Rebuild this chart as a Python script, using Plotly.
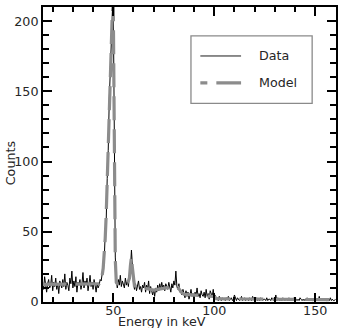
import numpy as np
import plotly.graph_objects as go

# Data: counts in 0.5 keV bins starting at 15 keV
data_counts = [
    14, 9, 18, 11, 7, 13, 16, 10, 12, 19, 8, 14, 11, 17, 9, 13, 6, 15, 12, 10,
    16, 11, 20, 9, 14, 12, 8, 17, 13, 22, 10, 15, 11, 18, 7, 14, 12, 16, 9, 13,
    21, 10, 15, 12, 17, 8, 13, 19, 11, 14, 9, 16, 12, 7, 13, 10, 12, 16, 15, 21,
    26, 30, 48, 58, 88, 108, 143, 165, 196, 204, 215, 128, 32, 15, 10, 16, 12, 19, 11, 15,
    13, 10, 17, 12, 15, 11, 19, 24, 37, 21, 14, 9, 13, 8, 12, 15, 9, 11, 7, 12,
    10, 14, 7, 12, 9, 15, 6, 11, 8, 5, 9, 4, 10, 7, 12, 8, 13, 9, 14, 10,
    12, 8, 13, 10, 9, 14, 11, 7, 13, 10, 15, 12, 22, 11, 9, 13, 7, 8, 5, 9,
    6, 3, 8, 4, 7, 2, 5, 9, 4, 6, 3, 7, 5, 10, 4, 6, 3, 8, 5, 4,
    7, 3, 9, 4, 6, 2, 8, 5, 4, 9, 3, 5, 2, 3, 1, 4, 2, 1, 3, 2,
    2, 1, 3, 2, 4, 1, 2, 3, 1, 2, 5, 2, 1, 3, 2, 1, 2, 4, 1, 2,
    3, 1, 2, 2, 1, 3, 2, 1, 4, 2, 1, 2, 3, 1, 2, 1, 3, 2, 1, 2,
    2, 1, 3, 1, 2, 2, 1, 3, 2, 1, 2, 5, 1, 3, 2, 1, 2, 1, 3, 2,
    1, 2, 2, 1, 3, 1, 2, 1, 2, 3, 1, 2, 1, 2, 1, 3, 2, 1, 2, 1,
    2, 1, 3, 1, 2, 1, 2, 1, 1, 2, 3, 1, 2, 1, 4, 1, 2, 1, 2, 1,
    2, 1, 1, 2, 1, 3, 1, 2, 1, 1, 2,
]
data_start_kev = 15.0
data_bin_kev = 0.5
data_energy = data_start_kev + data_bin_kev * np.arange(len(data_counts))

model_energy = [15, 20, 25, 30, 35, 40, 43, 43.5, 44, 44.5, 45, 45.5, 46, 46.5, 47, 47.5, 48,
                48.5, 49, 49.5, 50, 50.5, 51, 51.5, 52, 55, 57, 57.5, 58, 58.5, 59, 59.5, 60, 60.5,
                62, 65, 68, 70, 72, 75, 78, 82, 83, 84, 85, 88, 92, 96, 100, 100.5, 101, 105, 120, 140, 160]
model_counts = [12.5, 12.5, 13, 13, 12.5, 12.5, 13, 14, 16, 19, 24, 32, 45, 62, 85, 112, 140,
                168, 192, 205, 212, 130, 30, 14, 13, 13.5, 14, 15, 17, 26, 32, 24, 14, 11.5,
                11, 10, 9, 8.5, 9, 10, 10.5, 10.5, 8.5, 6.5, 5.5, 5, 4.5, 4.2, 4, 3, 2.3, 2.2, 2, 1.8, 1.6]

x_major = [50, 100, 150]
y_major = [0, 50, 100, 150, 200]
series_names = ["Data", "Model"]

FONT = "DejaVu Sans"
TXT = "#262626"
FS = 12.7
DATA_LINE = dict(color="black", width=1)
MODEL_LINE = dict(color="rgb(140,140,140)", width=3.2, dash="24px,9px")

fig = go.Figure()
fig.add_trace(go.Scatter(x=data_energy, y=data_counts, mode="lines", name=series_names[0],
                         showlegend=False, line=DATA_LINE))
fig.add_trace(go.Scatter(x=model_energy, y=model_counts, mode="lines", name=series_names[1],
                         showlegend=False, line=MODEL_LINE))

axis_common = dict(
    showline=True, linecolor="black", linewidth=2, mirror="allticks",
    ticks="inside", ticklen=9, tickwidth=1.8, tickcolor="black",
    showgrid=False, zeroline=False,
    tickfont=dict(family=FONT, size=FS, color=TXT),
)
fig.update_xaxes(range=[15.2, 160.3], tickvals=x_major, ticklabelstandoff=-4,
                 minor=dict(dtick=10, tick0=0, ticks="inside", ticklen=5, tickwidth=1.5, tickcolor="black"),
                 **axis_common)
fig.update_yaxes(range=[0, 210], tickvals=y_major,
                 minor=dict(dtick=10, tick0=0, ticks="inside", ticklen=6, tickwidth=1.5, tickcolor="black"),
                 **axis_common)

fig.add_annotation(text="Energy in keV", xref="paper", yref="paper", x=0.407, y=-0.034,
                   xanchor="center", yanchor="top", showarrow=False,
                   font=dict(family=FONT, size=FS, color=TXT))
fig.add_annotation(text="Counts", xref="paper", yref="paper", x=-0.113, y=0.47,
                   xanchor="center", yanchor="middle", textangle=-90, showarrow=False,
                   font=dict(family=FONT, size=FS, color=TXT))

# Legend drawn as a framed key (paper coordinates)
fig.add_shape(type="rect", xref="paper", yref="paper", x0=0.505, x1=0.9186, y0=0.673, y1=0.902,
              line=dict(color="#8a8a8a", width=1.3), fillcolor="white", layer="above")
for name, ly, style in [(series_names[0], 0.834, DATA_LINE), (series_names[1], 0.743, MODEL_LINE)]:
    fig.add_shape(type="line", xref="paper", yref="paper", x0=0.537, x1=0.676, y0=ly, y1=ly,
                  line=dict(color=style["color"], width=style["width"] if name == "Model" else 0.9,
                            dash="7px,9px,25px" if name == "Model" else "solid"),
                  layer="above")
    fig.add_annotation(text=name, xref="paper", yref="paper", x=0.729, y=ly,
                       xanchor="left", yanchor="middle", showarrow=False,
                       font=dict(family=FONT, size=FS, color=TXT))

fig.update_layout(
    width=343, height=328,
    margin=dict(l=43, r=5, t=6, b=26),
    paper_bgcolor="white", plot_bgcolor="white",
    showlegend=False,
)

fig.write_html("out.html")
